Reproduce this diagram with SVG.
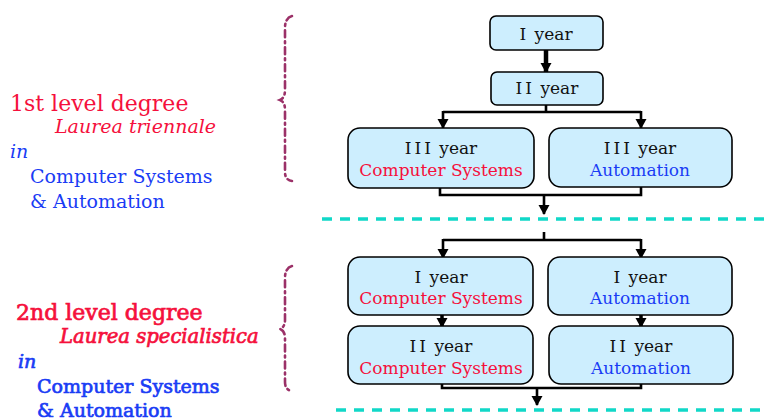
<svg xmlns="http://www.w3.org/2000/svg" width="768" height="420" viewBox="0 0 768 420">
  <style>
    .box { fill: #cdeefe; stroke: #000; stroke-width: 1.6; }
    .t { font-family: "DejaVu Serif", "Liberation Serif", serif; font-size: 17px; text-anchor: middle; fill: #111; }
    .rn { letter-spacing: 3px; }
    .red { fill: #f5103c; }
    .blue { fill: #1a3cf5; }
    .lbl { font-family: "DejaVu Serif", "Liberation Serif", serif; font-size: 19px; }
    .big { font-size: 22px; }
    .heavy { stroke-width: 0.7px; }
    .heavy.red { stroke: #f5103c; }
    .heavy.blue { stroke: #1a3cf5; }
    .it { font-style: italic; }
    .conn { fill: none; stroke: #000; stroke-width: 2.6; }
    .sep { stroke: #11d8c8; stroke-width: 3.5; stroke-dasharray: 10 8; }
    .brace { fill: none; stroke: #9b3168; stroke-width: 2.6; stroke-dasharray: 7 4 2 4; stroke-linecap: round; }
  </style>
  <defs>
    <marker id="ah" markerUnits="userSpaceOnUse" markerWidth="12" markerHeight="12" refX="9" refY="6" orient="auto">
      <path d="M0,0.5 L10,6 L0,11.5 Z" fill="#000"/>
    </marker>
  </defs>

  <!-- left captions -->
  <g id="caption-first">
    <text class="lbl big red" x="10" y="111">1st level degree</text>
    <text class="lbl red it" x="55" y="133">Laurea triennale</text>
    <text class="lbl blue it" x="10" y="158">in</text>
    <text class="lbl blue" x="30" y="183">Computer Systems</text>
    <text class="lbl blue" x="30" y="208">&amp; Automation</text>
  </g>
  <g id="caption-second">
    <text class="lbl big heavy red" x="16" y="320">2nd level degree</text>
    <text class="lbl heavy red it" x="60" y="343" style="font-size:19.6px">Laurea specialistica</text>
    <text class="lbl heavy blue it" x="18" y="368">in</text>
    <text class="lbl heavy blue" x="37" y="393">Computer Systems</text>
    <text class="lbl heavy blue" x="37" y="417">&amp; Automation</text>
  </g>

  <!-- braces -->
  <g id="brace-first">
    <path class="brace" d="M292,16 Q285,18 285,28 L285,90 Q285,98 280,100 Q285,102 285,110 L285,172 Q285,180 292,181"/>
  </g>
  <g id="brace-second">
    <path class="brace" d="M292,266 Q285,268 285,278 L285,320 Q285,327 280,329 Q285,331 285,338 L285,382 Q285,390 292,391"/>
  </g>

  <!-- separators -->
  <line class="sep" x1="322" y1="219" x2="768" y2="219"/>
  <line class="sep" x1="336" y1="410" x2="768" y2="410"/>

  <!-- connectors -->
  <g id="connectors">
    <line class="conn" x1="546" y1="50" x2="546" y2="72" marker-end="url(#ah)" style="stroke-width:4.5"/>
    <path class="conn" d="M546,105 L546,112 M443,112 L641,112"/>
    <line class="conn" x1="443" y1="111" x2="443" y2="128" marker-end="url(#ah)"/>
    <line class="conn" x1="641" y1="111" x2="641" y2="128" marker-end="url(#ah)"/>
    <path class="conn" d="M440,182 L440,195 L641,195 L641,182"/>
    <line class="conn" x1="544" y1="195" x2="544" y2="214" marker-end="url(#ah)"/>
    <path class="conn" d="M544,232 L544,240 M443,240 L641,240"/>
    <line class="conn" x1="443" y1="239" x2="443" y2="258" marker-end="url(#ah)"/>
    <line class="conn" x1="641" y1="239" x2="641" y2="258" marker-end="url(#ah)"/>
    <line class="conn" x1="442" y1="315" x2="442" y2="327" marker-end="url(#ah)" style="stroke-width:3.5"/>
    <line class="conn" x1="641" y1="315" x2="641" y2="327" marker-end="url(#ah)" style="stroke-width:3.5"/>
    <path class="conn" d="M442,375 L442,388 L641,388 L641,375"/>
    <line class="conn" x1="537" y1="388" x2="537" y2="405" marker-end="url(#ah)"/>
  </g>

  <!-- nodes -->
  <g id="year1">
    <rect class="box" x="490" y="16" width="113" height="34" rx="6"/>
    <text class="t" x="546" y="40"><tspan class="rn">I</tspan> year</text>
  </g>
  <g id="year2">
    <rect class="box" x="491" y="72" width="112" height="33" rx="6"/>
    <text class="t" x="547" y="94"><tspan class="rn">II</tspan> year</text>
  </g>
  <g id="year3-cs">
    <rect class="box" x="348" y="128" width="186" height="60" rx="12"/>
    <text class="t" x="441" y="154"><tspan class="rn">III</tspan> year</text>
    <text class="t red" x="441" y="176">Computer Systems</text>
  </g>
  <g id="year3-auto">
    <rect class="box" x="549" y="128" width="183" height="59" rx="12"/>
    <text class="t" x="640" y="154"><tspan class="rn">III</tspan> year</text>
    <text class="t blue" x="640" y="176">Automation</text>
  </g>
  <g id="spec1-cs">
    <rect class="box" x="348" y="257" width="185" height="58" rx="12"/>
    <text class="t" x="441" y="283"><tspan class="rn">I</tspan> year</text>
    <text class="t red" x="441" y="304">Computer Systems</text>
  </g>
  <g id="spec1-auto">
    <rect class="box" x="548" y="257" width="184" height="58" rx="12"/>
    <text class="t" x="640" y="283"><tspan class="rn">I</tspan> year</text>
    <text class="t blue" x="640" y="304">Automation</text>
  </g>
  <g id="spec2-cs">
    <rect class="box" x="348" y="326" width="185" height="58" rx="12"/>
    <text class="t" x="441" y="352"><tspan class="rn">II</tspan> year</text>
    <text class="t red" x="441" y="374">Computer Systems</text>
  </g>
  <g id="spec2-auto">
    <rect class="box" x="549" y="326" width="184" height="58" rx="12"/>
    <text class="t" x="641" y="352"><tspan class="rn">II</tspan> year</text>
    <text class="t blue" x="641" y="374">Automation</text>
  </g>
</svg>
